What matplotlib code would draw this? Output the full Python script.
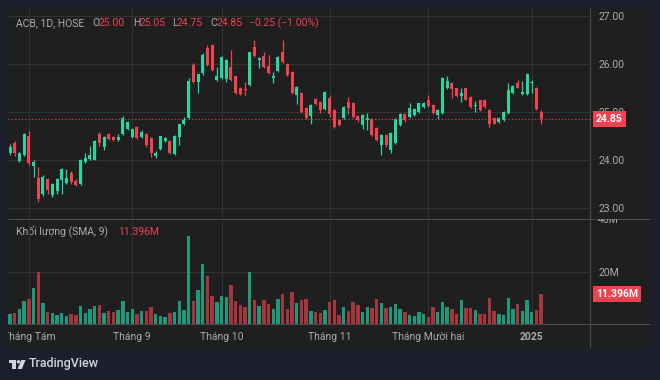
import numpy as np
import matplotlib.pyplot as plt
from matplotlib.patches import Rectangle, Polygon, Circle
from matplotlib.transforms import blended_transform_factory, Bbox, TransformedBbox

plt.rcParams['font.family'] = ['Roboto', 'DejaVu Sans']

# ACB, 1D, HOSE: 26/07/2024 .. 06/01/2025
opens = [24.15, 24.35, 23.97, 24.10, 24.50, 23.87, 23.62, 23.29, 23.60, 23.27,
         23.35, 23.58, 23.52, 23.73, 23.57, 23.50, 23.96, 24.02, 24.01, 24.54,
         24.27, 24.54, 24.48, 24.42, 24.54, 24.65, 24.47, 24.68, 24.47, 24.54,
         24.45, 24.08, 24.22, 24.40, 24.40, 24.12, 24.47, 24.74, 24.87, 25.98,
         25.63, 25.81, 26.33, 26.40, 25.67, 25.70, 25.68, 25.94, 25.74, 25.50,
         25.48, 25.56, 26.36, 26.08, 26.17, 25.96, 25.70, 25.86, 26.24, 26.01,
         25.84, 25.35, 25.39, 25.08, 24.92, 25.28, 25.21, 25.06, 25.30, 25.04,
         24.83, 24.87, 25.20, 25.18, 24.92, 24.73, 24.83, 24.85, 24.66, 24.31,
         24.52, 24.21, 24.35, 24.73, 24.96, 24.89, 24.94, 24.99, 25.10, 25.26,
         25.15, 24.94, 24.97, 25.49, 25.61, 25.49, 25.33, 25.49, 25.31, 25.12,
         25.24, 25.25, 25.04, 24.87, 24.80, 24.83, 24.97, 25.40, 25.61, 25.38,
         25.38, 25.60, 25.51, 25.00]
highs = [24.33, 24.40, 24.17, 24.56, 24.60, 24.00, 23.85, 23.68, 23.62, 23.52,
         23.62, 23.83, 23.81, 23.78, 23.60, 24.02, 24.15, 24.30, 24.42, 24.58,
         24.50, 24.56, 24.50, 24.55, 24.92, 24.82, 24.67, 24.70, 24.62, 24.56,
         24.47, 24.18, 24.51, 24.48, 24.42, 24.52, 24.76, 24.90, 25.70, 26.02,
         25.80, 26.22, 26.40, 26.42, 25.94, 26.16, 26.10, 26.29, 25.76, 25.52,
         25.63, 26.26, 26.50, 26.15, 26.24, 26.19, 25.84, 26.16, 26.50, 26.03,
         25.86, 25.55, 25.41, 25.10, 25.17, 25.30, 25.23, 25.44, 25.35, 25.06,
         24.85, 25.13, 25.32, 25.20, 24.94, 24.96, 24.98, 24.87, 24.68, 24.55,
         24.54, 24.58, 24.87, 24.98, 24.98, 25.18, 25.08, 25.20, 25.20, 25.35,
         25.17, 25.06, 25.72, 25.75, 25.63, 25.51, 25.49, 25.51, 25.33, 25.22,
         25.26, 25.27, 25.06, 24.89, 24.90, 25.02, 25.60, 25.56, 25.67, 25.65,
         25.81, 25.67, 25.53, 25.05]
lows = [24.10, 24.08, 23.95, 24.08, 23.90, 23.65, 23.13, 23.25, 23.30, 23.22,
        23.30, 23.30, 23.50, 23.50, 23.45, 23.48, 23.94, 24.00, 24.00, 24.30,
        24.20, 24.42, 24.40, 24.40, 24.52, 24.62, 24.45, 24.43, 24.45, 24.28,
        24.07, 24.05, 24.20, 24.38, 24.12, 24.10, 24.32, 24.72, 24.85, 25.60,
        25.40, 25.78, 25.95, 25.85, 25.65, 25.68, 25.62, 25.65, 25.37, 25.35,
        25.35, 25.54, 26.15, 25.91, 25.92, 25.80, 25.60, 25.84, 26.02, 25.75,
        25.37, 25.17, 24.98, 24.85, 24.75, 25.15, 24.98, 25.04, 24.90, 24.67,
        24.70, 24.85, 24.95, 24.88, 24.80, 24.65, 24.62, 24.50, 24.40, 24.10,
        24.28, 24.15, 24.33, 24.70, 24.80, 24.87, 24.92, 24.97, 25.08, 25.11,
        24.95, 24.85, 24.95, 25.47, 25.30, 25.31, 25.20, 25.24, 25.09, 25.00,
        25.02, 25.09, 24.69, 24.74, 24.78, 24.81, 24.95, 25.38, 25.49, 25.36,
        25.36, 25.40, 25.04, 24.75]
closes = [24.27, 24.15, 24.15, 24.54, 23.94, 23.96, 23.18, 23.65, 23.37, 23.50,
          23.60, 23.81, 23.63, 23.54, 23.48, 24.00, 24.04, 24.10, 24.40, 24.35,
          24.48, 24.44, 24.42, 24.47, 24.88, 24.80, 24.65, 24.45, 24.59, 24.31,
          24.14, 24.15, 24.49, 24.45, 24.14, 24.50, 24.74, 24.83, 25.65, 25.63,
          25.79, 26.19, 25.98, 25.88, 25.74, 26.14, 26.08, 25.67, 25.39, 25.37,
          25.45, 26.24, 26.17, 26.12, 25.94, 25.82, 25.75, 26.14, 26.05, 25.77,
          25.39, 25.53, 25.00, 24.87, 25.15, 25.17, 25.04, 25.42, 24.95, 24.69,
          24.73, 25.11, 25.08, 24.90, 24.83, 24.94, 24.88, 24.52, 24.42, 24.52,
          24.31, 24.56, 24.85, 24.96, 24.83, 25.08, 25.06, 25.18, 25.18, 25.13,
          24.97, 25.04, 25.70, 25.65, 25.47, 25.33, 25.40, 25.26, 25.11, 25.15,
          25.04, 25.11, 24.76, 24.76, 24.87, 25.00, 25.46, 25.54, 25.51, 25.42,
          25.79, 25.63, 25.06, 24.85]
# khối lượng, triệu cp
volumes = [3.7, 4.1, 5.8, 8.8, 9.6, 14.0, 19.9, 8.2, 4.7, 4.1,
           3.5, 4.4, 3.2, 3.8, 3.5, 6.8, 4.1, 5.8, 6.8, 7.2,
           4.1, 5.1, 4.5, 5.4, 8.8, 4.7, 5.8, 3.7, 5.1, 5.1,
           6.5, 3.7, 3.2, 2.8, 4.1, 4.5, 8.8, 5.4, 34.0, 8.8,
           13.0, 23.2, 18.5, 10.9, 8.3, 10.7, 10.5, 15.0, 8.8, 7.2,
           6.7, 20.0, 9.1, 6.8, 9.2, 7.8, 5.8, 9.5, 11.5, 5.8,
           12.2, 8.0, 9.2, 9.6, 5.0, 4.5, 4.1, 5.4, 8.5, 9.3,
           3.5, 6.4, 5.0, 8.3, 7.3, 4.5, 6.4, 6.0, 9.5, 8.2,
           6.3, 6.5, 7.8, 5.8, 4.5, 3.5, 3.2, 4.7, 4.0, 2.8,
           6.4, 4.7, 8.6, 6.4, 5.8, 3.7, 9.2, 6.0, 6.0, 5.4,
           3.7, 3.7, 9.9, 5.0, 3.7, 3.5, 9.9, 5.8, 7.8, 5.0,
           9.2, 4.7, 5.4, 11.396]

month_pos = [4, 26, 45, 68, 89, 111]
month_labels = ['Tháng Tám', 'Tháng 9', 'Tháng 10', 'Tháng 11', 'Tháng Mười hai', '2025']
price_ticks = [23, 24, 25, 26, 27]
last_close = 24.85
last_vol = 11.396

W, H = 660, 380
BG = '#1c202c'
PANE = '#1f1f1f'
GRID = '#323232'
SEP = '#4a4a4a'
TXT = '#a8abb3'
UP = '#26d6a3'
DN = '#f0424f'
VUP = '#1d9a7b'
VDN = '#a4363e'
FS = 7.5


def px(x0, y0, x1, y1):
    return [x0 / W, 1 - y1 / H, (x1 - x0) / W, (y1 - y0) / H]


o = np.array(opens)
h = np.array(highs)
l = np.array(lows)
c = np.array(closes)
v = np.array(volumes)
x = np.arange(len(o))
up = c >= o
xlim = (-0.43, 123.4)

fig = plt.figure(figsize=(6.6, 3.8), dpi=100, facecolor=BG)

# nền, khung
bg = fig.add_axes([0, 0, 1, 1])
bg.set_xlim(0, W)
bg.set_ylim(H, 0)
bg.axis('off')
bg.add_patch(Rectangle((8, 8), 642, 340, color=PANE, lw=0))
bg.hlines([218.5, 324], 8, 650, colors=SEP, lw=0.8)
bg.vlines(590, 8, 348, colors=SEP, lw=0.8)

# giá
ax = fig.add_axes(px(8, 8, 590, 218.5))
ax.set_facecolor('none')
ax.set_xlim(*xlim)
ax.set_ylim(22.781, 27.1667)
for s in ax.spines.values():
    s.set_visible(False)
ax.set_xticks(month_pos)
ax.set_yticks(price_ticks)
ax.set_yticklabels([f'{p:.2f}' for p in price_ticks])
ax.yaxis.tick_right()
ax.tick_params(axis='x', length=0, labelbottom=False)
ax.tick_params(axis='y', length=0, pad=6, labelsize=FS, labelcolor=TXT)
ax.grid(color=GRID, lw=0.8)
ax.set_axisbelow(True)

ax.vlines(x, l, h, colors=np.where(up, UP, DN), lw=0.9)
body = np.maximum(np.abs(c - o), 0.02)
ax.bar(x, body, bottom=np.minimum(o, c), width=0.64, color=np.where(up, UP, DN), lw=0)
ax.axhline(last_close, color=DN, lw=0.8, ls=(0, (1, 2)))

tr = blended_transform_factory(ax.transAxes, ax.transData)
ax.text(1 + 6 / 582, last_close, f'{last_close:.2f}', transform=tr, ha='left', va='center',
        color='white', fontsize=FS, fontweight='bold', clip_on=False,
        bbox=dict(boxstyle='square,pad=0.3', fc=DN, ec='none'))

# khối lượng
axv = fig.add_axes(px(8, 220, 590, 324))
axv.set_facecolor('none')
axv.set_xlim(*xlim)
axv.set_ylim(0, 40)
for s in axv.spines.values():
    s.set_visible(False)
axv.set_xticks(month_pos)
axv.set_yticks([20])
axv.set_yticklabels(['20M'])
axv.yaxis.tick_right()
axv.tick_params(axis='x', length=0, labelbottom=False)
axv.tick_params(axis='y', length=0, pad=6, labelsize=FS, labelcolor=TXT)
axv.grid(color=GRID, lw=0.8)
axv.set_axisbelow(True)
axv.bar(x, v, width=0.72, color=np.where(up, VUP, VDN), lw=0)

trv = blended_transform_factory(axv.transAxes, axv.transData)
t40 = axv.text(1 + 8 / 582, 40, '40M', transform=trv, ha='left', va='center',
               color=TXT, fontsize=FS, clip_on=True)
t40.set_clip_box(TransformedBbox(Bbox([[590 / W, 56 / H], [650 / W, 161.5 / H]]), fig.transFigure))
axv.text(1 + 6 / 582, last_vol, f'{last_vol:.3f}M', transform=trv, ha='left', va='center',
         color='white', fontsize=FS, fontweight='bold', clip_on=False,
         bbox=dict(boxstyle='square,pad=0.3', fc=DN, ec='none'))

# trục thời gian
axt = fig.add_axes(px(8, 324, 590, 348))
axt.set_xlim(*xlim)
axt.set_ylim(0, 1)
axt.axis('off')
for pos, lab in zip(month_pos, month_labels):
    t = axt.text(pos, 0.45, lab, ha='center', va='center', color=TXT, fontsize=FS,
                 fontweight='bold' if lab == '2025' else 'normal', clip_on=True)
    t.set_clip_box(axt.bbox)

# chú thích
bg.text(16, 23, 'ACB, 1D, HOSE', color=TXT, fontsize=FS, va='center')
parts = [(92, 'O', TXT), (99, '25.00', DN), (133, 'H', TXT), (140, '25.05', DN),
         (172, 'L', TXT), (177, '24.75', DN), (210, 'C', TXT), (216.5, '24.85', DN),
         (249, '−0.25 (−1.00%)', DN)]
for px_, s, col in parts:
    bg.text(px_, 23, s, color=col, fontsize=FS, va='center')
bg.text(16, 232, 'Khối lượng (SMA, 9)', color=TXT, fontsize=FS, va='center')
bg.text(118, 232, f'{last_vol:.3f}M', color=DN, fontsize=FS, va='center')

# logo
bg.add_patch(Rectangle((8.5, 360), 7.5, 3.2, color='#d1d4dc', lw=0))
bg.add_patch(Rectangle((12.3, 360), 3.7, 9, color='#d1d4dc', lw=0))
bg.add_patch(Circle((18.4, 361.8), 1.7, color='#d1d4dc', lw=0))
bg.add_patch(Polygon([(21.2, 360), (25.6, 360), (21.8, 369), (17.6, 369)], color='#d1d4dc', lw=0))
bg.text(29, 364, 'TradingView', color='#d1d4dc', fontsize=9, fontweight='medium', va='center')

fig.savefig('out.png', dpi=100, facecolor=BG)
